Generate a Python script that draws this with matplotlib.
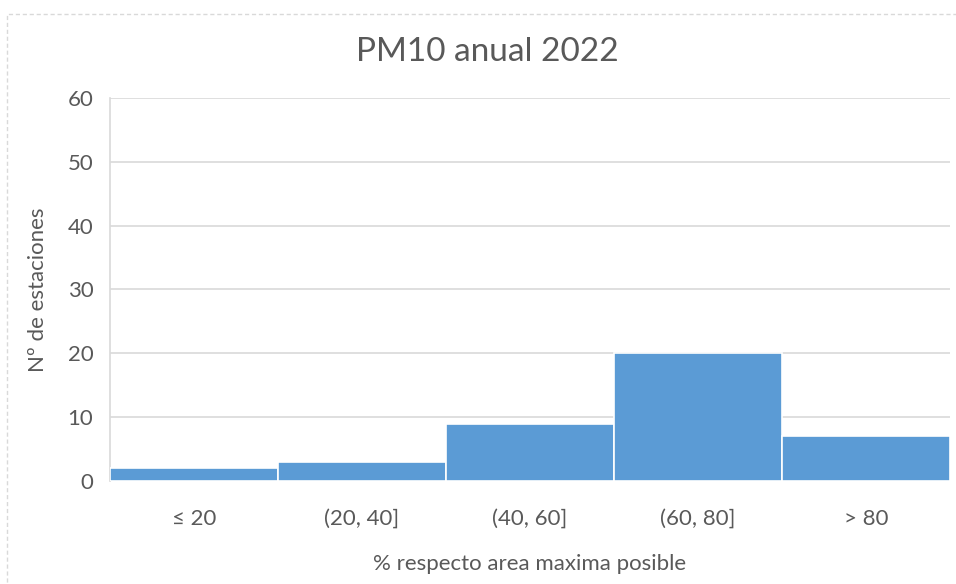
import matplotlib.pyplot as plt
from matplotlib.patches import Rectangle

categories = ['≤ 20', '(20, 40]', '(40, 60]', '(60, 80]', '> 80']
estaciones = [2, 3, 9, 20, 7]

plt.rcParams['font.family'] = ['Lato', 'DejaVu Sans']
gris = '#595959'

fig = plt.figure(figsize=(9.56, 5.84), dpi=100)
ax = fig.add_axes([0.1151, 0.1764, 0.8786, 0.6558])

# marco exterior del grafico
top = (584 - 14) / 584
fig.patches.append(Rectangle((7 / 956, -0.05), 1.2, top + 0.05,
                             transform=fig.transFigure, fill=False,
                             edgecolor='#d9d9d9', linewidth=1, linestyle=(0, (3, 2))))

x = range(len(categories))
ax.bar(x, estaciones, width=1.0, color='#5B9BD5', edgecolor='white', linewidth=1.2, zorder=3)

ax.set_xlim(-0.5, len(categories) - 0.5)
ax.set_ylim(0, 60)
ax.set_yticks(range(0, 61, 10))
ax.set_xticks(list(x))
ax.set_xticklabels(categories)
ax.grid(axis='y', color='#d9d9d9', linewidth=1.2, zorder=0)

for s in ['top', 'right', 'bottom']:
    ax.spines[s].set_visible(False)
ax.spines['left'].set_color('#d9d9d9')
ax.spines['left'].set_linewidth(1.2)

ax.tick_params(axis='both', length=0, colors=gris, labelsize=16)
ax.tick_params(axis='x', pad=20)
ax.tick_params(axis='y', pad=12)

ax.set_ylabel('Nº de estaciones', color=gris, fontsize=16, labelpad=14)
ax.set_xlabel('% respecto area maxima posible', color=gris, fontsize=16, labelpad=18)
fig.text(487 / 956, 1 - 52 / 584, 'PM10 anual 2022', ha='center', va='center',
         color=gris, fontsize=24)

fig.savefig('out.png', dpi=100)
